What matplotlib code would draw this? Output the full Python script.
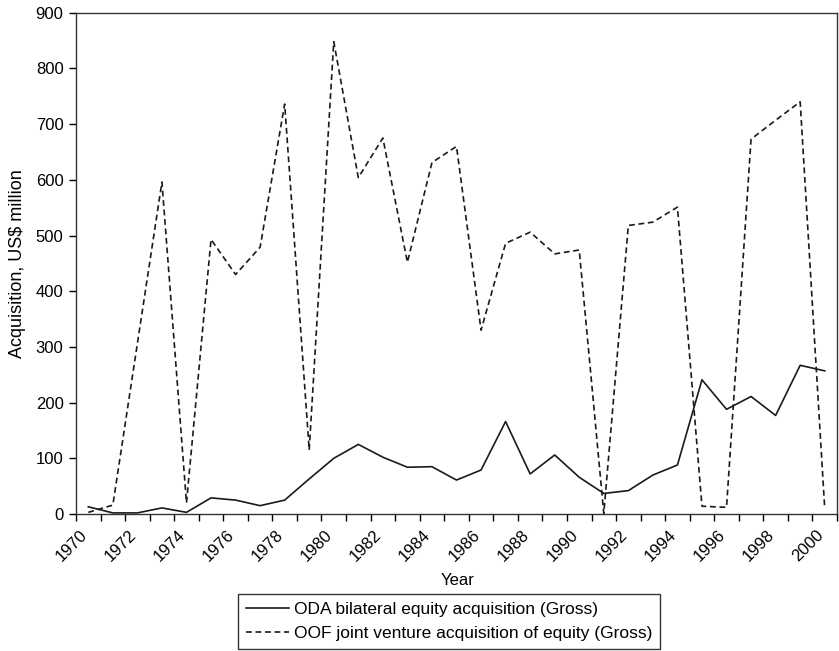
import matplotlib
matplotlib.use("Agg")
import matplotlib.pyplot as plt
from matplotlib.ticker import FixedLocator, NullFormatter

plt.rcParams['font.family'] = ['Liberation Sans', 'DejaVu Sans']

# données
years = list(range(1970, 2001))
oda = [13, 2, 2, 11, 3, 29, 25, 15, 25, 63, 100, 125, 102, 84, 85, 61,
       79, 166, 72, 106, 66, 37, 42, 70, 88, 241, 188, 211, 177, 267, 257]
oof = [3, 16, 306, 596, 20, 493, 430, 479, 736, 115, 848, 604, 675, 452, 631, 660,
       330, 486, 506, 467, 474, 1, 518, 524, 551, 14, 12, 673, 707, 740, 10]
label_years = list(range(1970, 2001, 2))
yticks = list(range(0, 1000, 100))

lbl_oda = "ODA bilateral equity acquisition (Gross)"
lbl_oof = "OOF joint venture acquisition of equity (Gross)"

x = [i for i in range(len(years))]

fig = plt.figure(figsize=(8.39, 6.51), dpi=100)
ax = fig.add_axes([0.0906, 0.2104, 0.9070, 0.7701])

ax.plot(x, oda, color='#1a1a1a', lw=1.2, label=lbl_oda)
ax.plot(x, oof, color='#1a1a1a', lw=1.2, linestyle=(0, (3.5, 2.2)), label=lbl_oof)

ax.set_xlim(-0.5, len(years) - 0.5)
ax.set_ylim(0, 900)
ax.set_yticks(yticks)

# étiquettes au centre des catégories, graduations aux limites
ax.set_xticks([years.index(y) - 0.15 for y in label_years])
ax.set_xticklabels([str(y) for y in label_years], rotation=45, ha='right',
                   va='center', rotation_mode='anchor')
ax.tick_params(axis='x', which='major', length=0, pad=13, labelsize=12)
ax.xaxis.set_minor_locator(FixedLocator([i - 0.5 for i in range(len(years) + 1)]))
ax.xaxis.set_minor_formatter(NullFormatter())
ax.tick_params(axis='x', which='minor', length=5, width=1, direction='out')
ax.tick_params(axis='y', length=5, width=1, direction='out', labelsize=12, pad=4)

for s in ax.spines.values():
    s.set_linewidth(1)
    s.set_color('#333333')

ax.set_ylabel("Acquisition, US$ million", fontsize=13, labelpad=7)
fig.text(0.545, 0.108, "Year", ha='center', va='center', fontsize=12)

leg = fig.legend(loc='upper center', bbox_to_anchor=(0.5352, 0.0876), ncol=1,
                 fontsize=12.5, frameon=True, fancybox=False, handlelength=2.5,
                 borderpad=0.45, labelspacing=0.5, handletextpad=0.3,
                 borderaxespad=0)
leg.get_frame().set_edgecolor('black')
leg.get_frame().set_linewidth(1)

fig.savefig("out.png", dpi=100)
